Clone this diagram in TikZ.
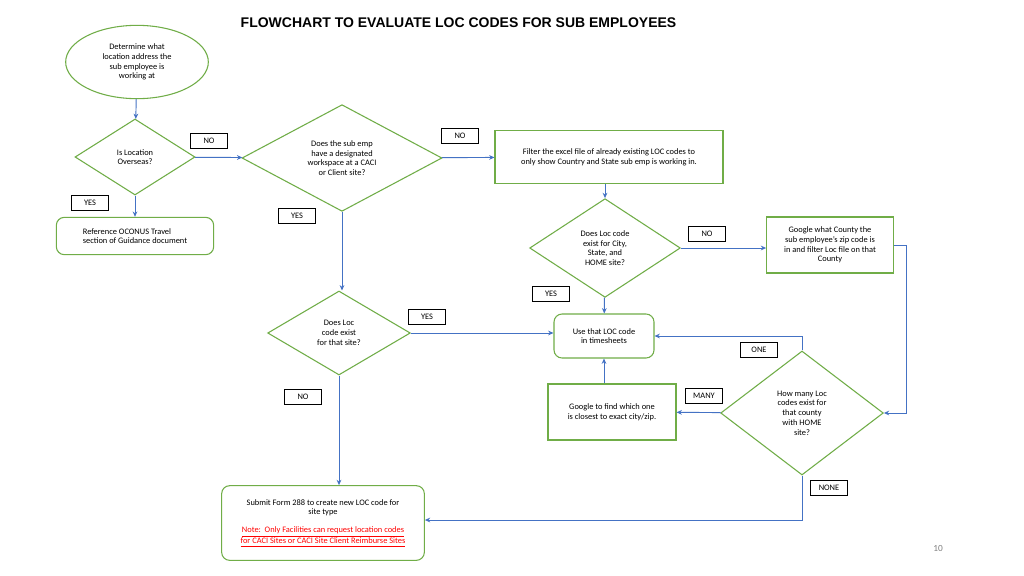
\documentclass[tikz,border=0pt]{standalone}
\usepackage{fontspec}
\setmainfont{Carlito}
\newfontfamily\titlefont{Liberation Sans}
\usetikzlibrary{shapes.geometric,arrows.meta}
\definecolor{gr}{RGB}{112,173,71}
\definecolor{bl}{RGB}{68,114,196}
\begin{document}
\begin{tikzpicture}[x=0.75pt,y=-0.75pt,
  every node/.style={font=\fontsize{6.3}{7.3}\selectfont},
  box/.style={draw=gr,line width=0.8pt,fill=white,align=center,inner sep=2pt},
  rbox/.style={box,rounded corners=6pt},
  dia/.style={draw=gr,line width=0.8pt,fill=white,diamond,align=center,inner sep=0pt},
  lab/.style={draw=black,line width=0.6pt,fill=white,minimum width=28pt,minimum height=11pt,inner sep=1pt,font=\fontsize{6.3}{7.3}\selectfont},
  arr/.style={draw=bl,line width=0.7pt,-{Stealth[length=4pt,width=3.5pt]}}]
\useasboundingbox[fill=white] (0,0) rectangle (1024,575);
\node[font=\titlefont\bfseries\fontsize{10.5}{12}\selectfont,anchor=west] (title) at (236,23) {FLOWCHART TO EVALUATE LOC CODES FOR SUB EMPLOYEES};
\node[draw=gr,line width=0.8pt,ellipse,minimum width=107pt,minimum height=55pt,align=center] (start) at (137,62) {Determine what\\location address the\\sub employee is\\working at};
\node[dia,minimum width=90pt,minimum height=57pt] (d1) at (135,157) {Is Location\\Overseas?};
\node[dia,minimum width=150pt,minimum height=80pt] (d2) at (342,158) {Does the sub emp\\have a designated\\workspace at a CACI\\or Client site?};
\node[box,minimum width=171pt,minimum height=40pt] (filter) at (609,157) {Filter the excel file of already existing LOC codes to\\only show Country and State sub emp is working in.};
\node[rbox,minimum width=118pt,minimum height=28pt,align=left] (oconus) at (135,236) {Reference OCONUS Travel\\section of Guidance document};
\node[dia,minimum width=113pt,minimum height=74pt] (d3) at (605,248) {Does Loc code\\exist for City,\\State, and\\HOME site?};
\node[box,minimum width=95pt,minimum height=42pt] (county) at (830,245) {Google what County the\\sub employee's zip code is\\in and filter Loc file on that\\County};
\node[dia,minimum width=107pt,minimum height=63pt] (d4) at (339,333) {Does Loc\\code exist\\for that site?};
\node[rbox,minimum width=75pt,minimum height=33pt] (use) at (604,336) {Use that LOC code\\in timesheets};
\node[dia,minimum width=122pt,minimum height=93pt] (d5) at (802,413) {How many Loc\\codes exist for\\that county\\with HOME\\site?};
\node[box,minimum width=96pt,minimum height=42pt] (close) at (612,412) {Google to find which one\\is closest to exact city/zip.};
\node[rbox,minimum width=152pt,minimum height=56pt] (submit) at (323,523) {Submit Form 288 to create new LOC code for\\site type\\[6pt]\textcolor{red}{\underline{Note:\ \ Only Facilities can request location codes}}\\\textcolor{red}{\underline{for CACI Sites or CACI Site Client Reimburse Sites}}};
\coordinate (c1) at (906,245);
\coordinate (c2) at (906,413);
\coordinate (c3) at (802,336);
\coordinate (c4) at (802,520);
\draw[arr] (start) -- (d1);
\draw[arr] (d1) -- (oconus);
\draw[arr] (d1) -- (d2);
\draw[arr] (d2) -- (filter);
\draw[arr] (d2.south) -- (d2.south |- d4.north);
\draw[arr] (filter.south -| d3.north) -- (d3.north);
\draw[arr] (d3.east) -- (d3.east -| county.west);
\draw[arr] (d3) -- (use);
\draw[arr] (d4.east) -- (d4.east -| use.west);
\draw[arr] (d4.south) -- (d4.south |- submit.north);
\draw[arr] (county.east) -- (c1) -- (c2) -- (d5.east);
\draw[arr] (d5.north) -- (c3) -- (use.east);
\draw[arr] (d5) -- (close);
\draw[arr] (close.north -| use.south) -- (use.south);
\draw[arr] (d5.south) -- (c4) -- (submit.east |- c4);
\node[lab] (l1) at (209,141) {NO};
\node[lab] (l2) at (460,136) {NO};
\node[lab] (l3) at (90,203) {YES};
\node[lab] (l4) at (297,216) {YES};
\node[lab] (l5) at (707,234) {NO};
\node[lab] (l6) at (551,294) {YES};
\node[lab] (l7) at (427,317) {YES};
\node[lab] (l8) at (759,350) {ONE};
\node[lab] (l9) at (704,396) {MANY};
\node[lab] (l10) at (303,397) {NO};
\node[lab] (l11) at (829,488) {NONE};
\node[font=\fontsize{7}{8}\selectfont,text=gray] (pg) at (938,548) {10};
\end{tikzpicture}
\end{document}
